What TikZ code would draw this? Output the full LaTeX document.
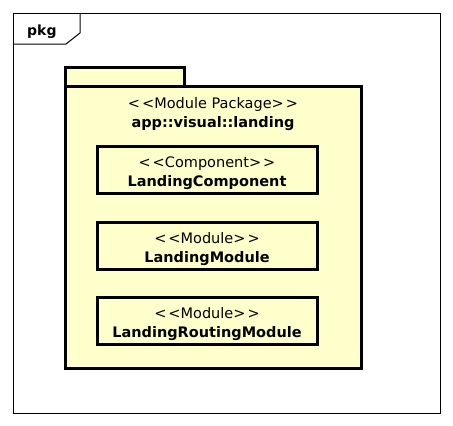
\documentclass[tikz,border=0pt]{standalone}
\usepackage{fontspec}
\setmainfont{DejaVu Sans}
\newcommand{\lt}{<\kern2pt<}
\newcommand{\gt}{>\kern2pt>}
\begin{document}
\begin{tikzpicture}[x=1pt,y=-1pt,
  frame/.style={draw=black,line width=1pt},
  pkgline/.style={draw=black,line width=3pt,fill=umlyellow},
  elem/.style={draw=black,line width=3pt,fill=umlyellow,minimum width=220pt,minimum height=47pt,inner sep=0pt},
  txt/.style={anchor=base,inner sep=0pt,font=\fontsize{14.5}{16}\selectfont},
  btxt/.style={anchor=base,inner sep=0pt,font=\bfseries\fontsize{14.5}{16}\selectfont}]
\definecolor{umlyellow}{HTML}{FFFFCC}
\useasboundingbox (0,0) rectangle (453,426);
% outer frame
\draw[frame] (13,13) rectangle (440,413);
\draw[frame] (13,44) -- (66,44) -- (80,33) -- (80,13);
\node[btxt,anchor=base west,font=\bfseries\fontsize{14}{16}\selectfont] (pkg) at (27,35) {pkg};
% package
\draw[pkgline] (65,67) rectangle (184,86);
\draw[pkgline] (65,86) rectangle (361,368);
\node[txt] (stereo) at (213,108.5) {\lt Module Package\gt};
\node[btxt] (pname) at (213,127) {app::visual::landing};
% elements
\node[elem] (comp) at (207,170) {};
\node[txt] (compS) at (207,167) {\lt Component\gt};
\node[btxt] (compN) at (207,186.5) {LandingComponent};
\node[elem] (mod) at (207,245.5) {};
\node[txt] (modS) at (207,243) {\lt Module\gt};
\node[btxt] (modN) at (207,262) {LandingModule};
\node[elem] (rout) at (207,320.5) {};
\node[txt] (routS) at (207,318) {\lt Module\gt};
\node[btxt] (routN) at (207,337) {LandingRoutingModule};
\end{tikzpicture}
\end{document}
